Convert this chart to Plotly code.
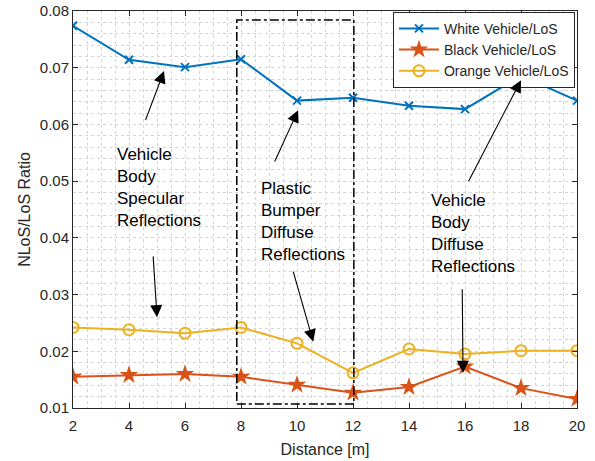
import plotly.graph_objects as go

distance = [2, 4, 6, 8, 10, 12, 14, 16, 18, 20]
white_ratio = [0.0774, 0.0714, 0.0701, 0.0715, 0.0642, 0.0647, 0.0633, 0.0627, 0.0686, 0.0642]
black_ratio = [0.0155, 0.0158, 0.0160, 0.0155, 0.0141, 0.0127, 0.0137, 0.0173, 0.0135, 0.0116]
orange_ratio = [0.0242, 0.0238, 0.0232, 0.0242, 0.0214, 0.0162, 0.0204, 0.0195, 0.0201, 0.0201]
series_names = ["White Vehicle/LoS", "Black Vehicle/LoS", "Orange Vehicle/LoS"]

# annotation texts and arrows: (text, x, y) and (head_x, head_y, tail_x, tail_y)
labels = [
    ("Vehicle<br>Body<br>Specular<br>Reflections", 3.5, 0.0489),
    ("Plastic<br>Bumper<br>Diffuse<br>Reflections", 8.64, 0.0429),
    ("Vehicle<br>Body<br>Diffuse<br>Reflections", 14.7, 0.0407),
]
arrows = [
    (5.25, 0.0694, 4.57, 0.0605),
    (5.00, 0.0260, 4.86, 0.0370),
    (10.04, 0.0625, 9.18, 0.0532),
    (10.58, 0.0217, 9.85, 0.0343),
    (18.00, 0.0678, 16.10, 0.0497),
    (15.93, 0.0162, 15.90, 0.0312),
]
box_x = [7.85, 12.03]
box_y = [0.0107, 0.0784]

fig = go.Figure()
fig.add_trace(go.Scatter(x=distance, y=white_ratio, name=series_names[0], mode="lines+markers",
                         line=dict(color="#0072BD", width=2),
                         marker=dict(symbol="x-thin", size=8, line=dict(color="#0072BD", width=2))))
fig.add_trace(go.Scatter(x=distance, y=black_ratio, name=series_names[1], mode="lines+markers",
                         line=dict(color="#D95319", width=2),
                         marker=dict(symbol="star", size=14, color="#D95319")))
fig.add_trace(go.Scatter(x=distance, y=orange_ratio, name=series_names[2], mode="lines+markers",
                         line=dict(color="#EDB120", width=2),
                         marker=dict(symbol="circle-open", size=11, color="#EDB120", line=dict(width=2))))

fig.add_shape(type="rect", xref="x", yref="y", x0=box_x[0], x1=box_x[1], y0=box_y[0], y1=box_y[1],
              line=dict(color="black", width=1.5, dash="dashdot"))

for t, x, y in labels:
    fig.add_annotation(x=x, y=y, xref="x", yref="y", text=t, showarrow=False,
                       xanchor="left", yanchor="middle", align="left",
                       font=dict(family="Liberation Sans, Arial", size=17, color="black"))
for hx, hy, tx, ty in arrows:
    fig.add_annotation(x=hx, y=hy, ax=tx, ay=ty, xref="x", yref="y", axref="x", ayref="y",
                       text="", showarrow=True, arrowhead=2, arrowsize=2.2, arrowwidth=1.1,
                       arrowcolor="black", standoff=0, startstandoff=0)

grid_color = "#d4d4d4"
axis_common = dict(showline=True, linecolor="#262626", linewidth=1, mirror="ticks",
                   ticks="inside", ticklen=5, tickcolor="#262626",
                   showgrid=True, gridcolor=grid_color, griddash="dot", gridwidth=1,
                   zeroline=False, automargin=False, ticklabeloverflow="allow",
                   tickfont=dict(family="Liberation Sans, Arial", size=15, color="#262626"))

fig.update_layout(
    width=595, height=461,
    margin=dict(l=73, r=18, t=11, b=53),
    plot_bgcolor="white", paper_bgcolor="white",
    font=dict(family="Liberation Sans, Arial", color="#262626"),
    xaxis=dict(range=[2, 20], dtick=2, tick0=2, ticklabelstandoff=4,
               title=dict(text="Distance [m]", font=dict(size=16, color="#262626"), standoff=10),
               minor=dict(dtick=0.5, showgrid=True, gridcolor=grid_color, griddash="dot", ticks=""),
               **axis_common),
    yaxis=dict(range=[0.01, 0.08], dtick=0.01, tick0=0.01, tickformat=".2f",
               title=dict(text="NLoS/LoS Ratio", font=dict(size=16, color="#262626"), standoff=5),
               minor=dict(dtick=0.002, showgrid=True, gridcolor=grid_color, griddash="dot", ticks=""),
               **axis_common),
    legend=dict(x=0.996, y=0.998, xanchor="right", yanchor="top",
                bgcolor="white", bordercolor="#262626", borderwidth=1,
                font=dict(family="Liberation Sans, Arial", size=14, color="#262626"),
                tracegroupgap=0, itemwidth=40),
    showlegend=True,
)

fig.write_html("out.html", config={"displayModeBar": False},
               post_script="document.body.style.margin='0';")
